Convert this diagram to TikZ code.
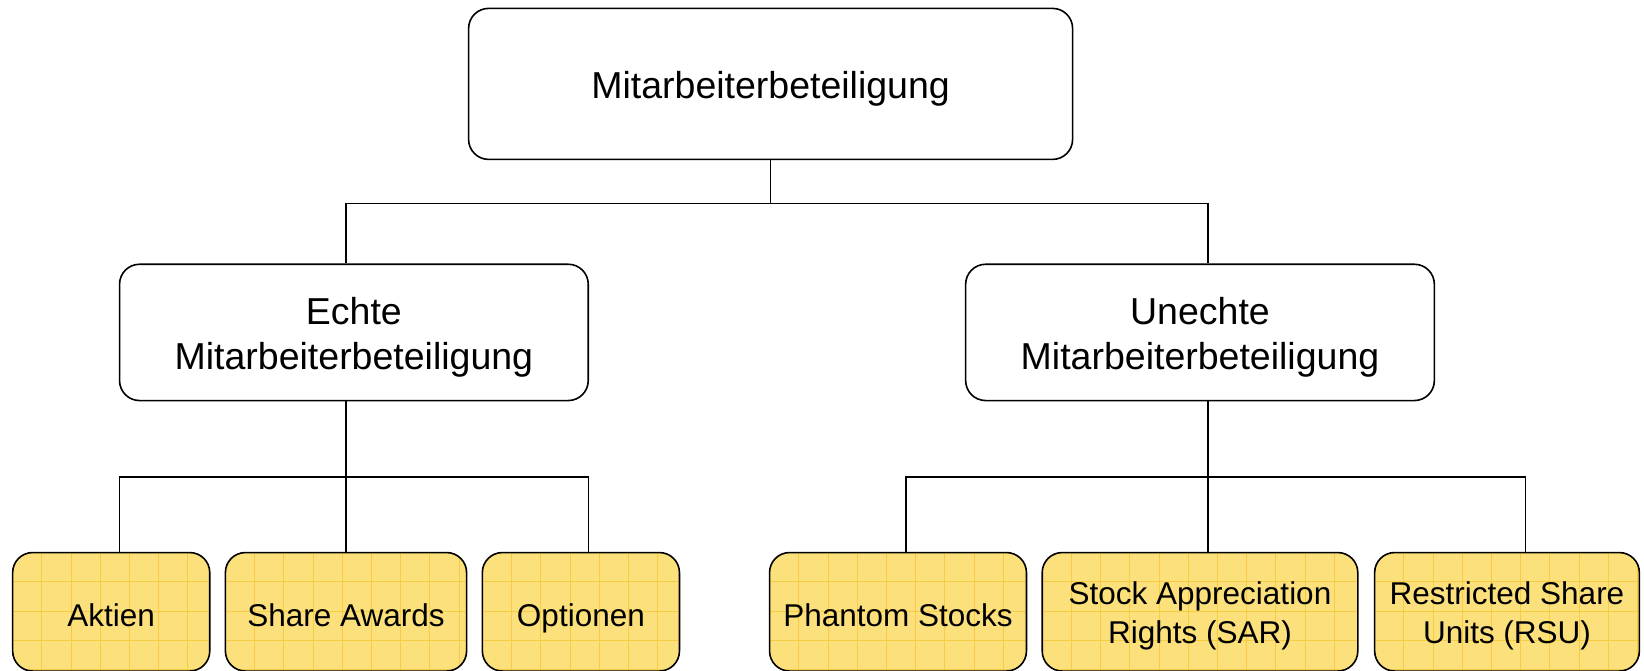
\documentclass[tikz,border=0pt]{standalone}
\usepackage{fontspec}
\setmainfont{Liberation Sans}
\usetikzlibrary{calc}
\definecolor{boxfill}{RGB}{251,224,124}
\definecolor{gridc}{RGB}{247,204,66}
\tikzset{
  box/.style={draw=black, line width=1.6pt, rounded corners=20pt, fill=white,
    inner sep=0pt},
  midtxt/.style={inner sep=0pt, align=center, font=\fontsize{37.5}{45}\selectfont},
  leaftxt/.style={inner sep=0pt, align=center, font=\fontsize{31.5}{39.5}\selectfont},
  gridline/.style={draw=gridc, line width=0.8pt},
  leaf/.style={box, fill=boxfill, minimum height=118.5pt,
    path picture={
      \foreach \i in {1,...,12}{
        \draw[gridline] ([xshift=\i*29.2pt]path picture bounding box.north west) -- ([xshift=\i*29.2pt]path picture bounding box.south west);}
      \foreach \j in {1,...,4}{
        \draw[gridline] ([yshift=-\j*29.2pt]path picture bounding box.north west) -- ([yshift=-\j*29.2pt]path picture bounding box.north east);}
    }},
  conn/.style={line width=1.4pt, draw=black}
}
\begin{document}
\begin{tikzpicture}[x=1pt,y=-1pt]
\clip (0,0) rectangle (1644,670);
\fill[white] (0,0) rectangle (1644,670);
% main nodes
\node[box, minimum width=604pt, minimum height=151pt] (top) at (770.6,83.9) {};
\node[box, minimum width=468.7pt, minimum height=136.3pt] (echte) at (353.9,332.4) {};
\node[box, minimum width=468.7pt, minimum height=136.3pt] (unechte) at (1200,332.4) {};
\node[midtxt] (toptxt) at ([yshift=-5pt]top.center) {Mitarbeiterbeteiligung};
\node[midtxt] (echtetxt) at ([yshift=-5pt]echte.center) {Echte\\Mitarbeiterbeteiligung};
\node[midtxt] (unechtetxt) at ([yshift=-5pt]unechte.center) {Unechte\\Mitarbeiterbeteiligung};
% leaves
\node[leaf, minimum width=197.1pt] (aktien) at (111.2,611.8) {};
\node[leaf, minimum width=241.2pt] (share) at (346,611.8) {};
\node[leaf, minimum width=197.1pt] (optionen) at (580.9,611.8) {};
\node[leaf, minimum width=256.9pt] (phantom) at (898,611.8) {};
\node[leaf, minimum width=315.6pt] (sar) at (1200,611.8) {};
\node[leaf, minimum width=264.7pt] (rsu) at (1507,611.8) {};
\node[leaftxt] (aktientxt) at ([yshift=-3pt]aktien.center) {Aktien};
\node[leaftxt] (sharetxt) at ([yshift=-3pt]share.center) {Share Awards};
\node[leaftxt] (optionentxt) at ([yshift=-6.3pt]optionen.center) {Optionen};
\node[leaftxt] (phantomtxt) at ([yshift=-3pt]phantom.center) {Phantom Stocks};
\node[leaftxt] (sartxt) at ([yshift=-4pt]sar.center) {Stock Appreciation\\Rights (SAR)};
\node[leaftxt] (rsutxt) at ([yshift=-4pt]rsu.center) {Restricted Share\\Units (RSU)};
% bus coordinates
\coordinate (j0) at (770.6,203.4);
\coordinate (jl) at (346,203.4);
\coordinate (jr) at (1207.9,203.4);
\coordinate (e1) at (119.5,477);
\coordinate (e2) at (346,477);
\coordinate (e3) at (588.2,477);
\coordinate (u1) at (905.9,477);
\coordinate (u2) at (1207.9,477);
\coordinate (u3) at (1525.6,477);
% connectors
\draw[conn] (top.south) -- (j0);
\draw[conn] (jl |- echte.north) -- (jl) -- (jr) -- (jr |- unechte.north);
\draw[conn] (e2 |- echte.south) -- (e2);
\draw[conn] (e1 |- aktien.north) -- (e1) -- (e3) -- (e3 |- optionen.north);
\draw[conn] (e2) -- (e2 |- share.north);
\draw[conn] (u2 |- unechte.south) -- (u2);
\draw[conn] (u1 |- phantom.north) -- (u1) -- (u3) -- (u3 |- rsu.north);
\draw[conn] (u2) -- (u2 |- sar.north);
\end{tikzpicture}
\end{document}
